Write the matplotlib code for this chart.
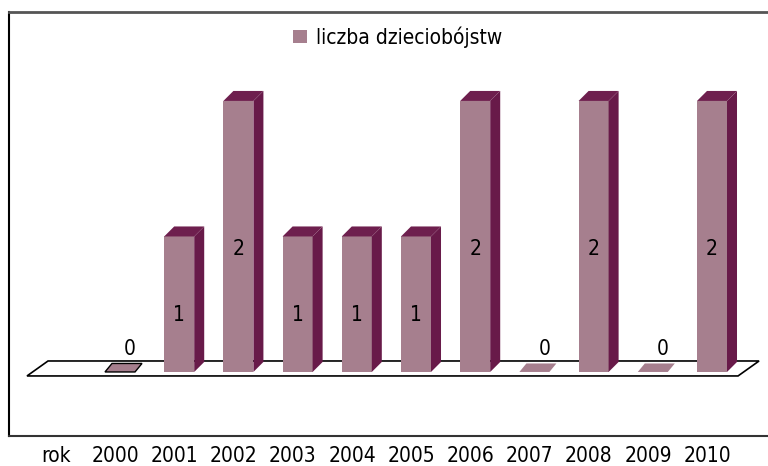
import matplotlib
matplotlib.use("Agg")
import matplotlib.pyplot as plt
from matplotlib.patches import Polygon
from matplotlib.lines import Line2D

years = ["2000", "2001", "2002", "2003", "2004", "2005", "2006", "2007", "2008", "2009", "2010"]
values = [0, 1, 2, 1, 1, 1, 2, 0, 2, 0, 2]
legend_label = "liczba dzieciobójstw"
axis_label = "rok"

front_col = "#a67f8e"
side_col = "#681a49"
top_col = "#6e1f4e"

plt.rcParams['font.family'] = ['Liberation Sans Narrow', 'DejaVu Sans']
plt.rcParams['font.stretch'] = 'condensed'

fig = plt.figure(figsize=(7.68, 4.66), dpi=100)
ax = fig.add_axes([0, 0, 1, 1])
ax.set_xlim(-2.027, 10.946)
ax.set_ylim(-0.694, 2.745)
ax.axis('off')

w = 0.507
dx = 0.169
dy = 0.0738

# floor
fl_x0, fl_x1 = -1.571, 10.44
fl_y0, fl_y1 = -0.0295, 0.081
fl_dx = 0.355
ax.add_patch(Polygon([(fl_x0, fl_y0), (fl_x1, fl_y0), (fl_x1 + fl_dx, fl_y1), (fl_x0 + fl_dx, fl_y1)],
                     closed=True, facecolor='white', edgecolor='black', lw=1.2, zorder=1))

for i, v in enumerate(values):
    x0, x1 = i - w / 2, i + w / 2
    if v == 0:
        ec = 'black' if i == 0 else 'none'
        ax.add_patch(Polygon([(x0, 0), (x1, 0), (x1 + dx * 0.7, dy * 0.85), (x0 + dx * 0.7, dy * 0.85)],
                             closed=True, facecolor=front_col, edgecolor=ec, lw=1.0, zorder=2))
        ax.text(i + 0.17, 0.17, "0", ha='center', va='center', fontsize=15, zorder=5)
    else:
        ax.add_patch(Polygon([(x0, 0), (x1, 0), (x1, v), (x0, v)], closed=True,
                             facecolor=front_col, edgecolor='none', zorder=3))
        ax.add_patch(Polygon([(x1, 0), (x1 + dx, dy), (x1 + dx, v + dy), (x1, v)], closed=True,
                             facecolor=side_col, edgecolor='none', zorder=3))
        ax.add_patch(Polygon([(x0, v), (x1, v), (x1 + dx, v + dy), (x0 + dx, v + dy)], closed=True,
                             facecolor=top_col, edgecolor='none', zorder=3))
        ax.text(i, v * 0.49 - 0.07, str(v), ha='center', va='center', fontsize=15, zorder=5)

# year labels
for i, y in enumerate(years):
    ax.text(i - 0.08, -0.62, y, ha='center', va='center', fontsize=15)
ax.text(-1.08, -0.62, axis_label, ha='center', va='center', fontsize=15)

# frame
H = 466
def fy(p):
    return 1 - p / H
fig.add_artist(Line2D([9 / 768, 9 / 768], [fy(12), fy(436)], color='black', lw=1.5))
fig.add_artist(Line2D([9 / 768, 1.0], [fy(12), fy(12)], color='#555555', lw=2))
fig.add_artist(Line2D([9 / 768, 1.0], [fy(436), fy(436)], color='#333333', lw=1.5))

# legend
fig.add_artist(plt.Rectangle((293 / 768, fy(43)), 14 / 768, 13 / H, transform=fig.transFigure,
                             facecolor=front_col, edgecolor='none'))
fig.text(316 / 768, fy(37), legend_label, ha='left', va='center', fontsize=15)

fig.savefig("out.png", dpi=100)
